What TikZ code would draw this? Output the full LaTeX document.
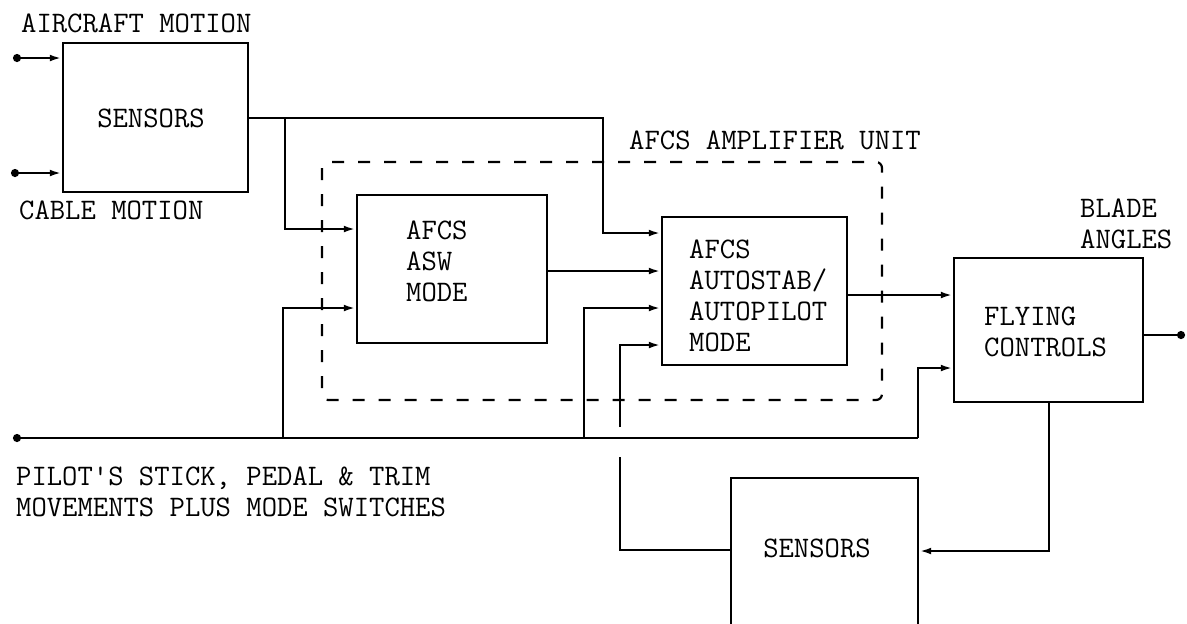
\documentclass[tikz,border=0pt]{standalone}
\usetikzlibrary{arrows.meta}
\begin{document}
\begin{tikzpicture}[x=0.5pt,y=-0.5pt,
  line width=1.2pt,
  blk/.style={draw, line width=1.2pt, inner sep=0pt, rectangle},
  lbl/.style={font=\ttfamily\fontsize{14.9}{15.5}\selectfont, inner sep=0pt, align=left},
  btxt/.style={font=\ttfamily\fontsize{14.9}{15.5}\selectfont, inner sep=0pt, align=left},
  arr/.style={-{Latex[length=6pt,width=3.4pt]}},
  darr/.style={{Circle[length=4pt]}-{Latex[length=6pt,width=3.4pt]}},
  dstart/.style={{Circle[length=4pt]}-},
  dend/.style={-{Circle[length=4pt]}},
  unit/.style={dash pattern=on 6pt off 7pt, line width=1.1pt, rounded corners=3pt}]
\useasboundingbox (0,0) rectangle (1187,623);
\clip (0,0) rectangle (1187,623);

% boxes
\node[blk, minimum width=92.5pt, minimum height=74.5pt] (sen1) at (155.5,117.5) {};
\node[blk, minimum width=95pt, minimum height=74pt] (asw) at (452,269) {};
\node[blk, minimum width=92.5pt, minimum height=74pt] (auto) at (754.5,291) {};
\node[blk, minimum width=94.5pt, minimum height=72pt] (fly) at (1048.5,330) {};
\node[blk, minimum width=93.5pt, minimum height=111pt] (sen2) at (824.5,589) {};

% dashed amplifier unit
\draw[unit] (322,162) rectangle (882,400);
\node[lbl, anchor=west] (unitlbl) at (628,140) {AFCS AMPLIFIER UNIT};

% box texts
\node[btxt] (sen1t) at (151,118) {SENSORS};
\node[btxt, anchor=west] (aswt) at (405,261) {AFCS\\ASW\\MODE};
\node[btxt, anchor=west] (autot) at (688,296) {AFCS\\AUTOSTAB/\\AUTOPILOT\\MODE};
\node[btxt, anchor=west] (flyt) at (983,332) {FLYING\\CONTROLS};
\node[btxt] (sen2t) at (817,548) {SENSORS};

% labels
\node[lbl, anchor=west] (acm) at (20,23) {AIRCRAFT MOTION};
\node[lbl, anchor=west] (cbm) at (18,210) {CABLE MOTION};
\node[lbl, anchor=west] (blade) at (1079,224) {BLADE\\ANGLES};
\node[lbl, anchor=west] (pilot) at (15,492) {PILOT'S STICK, PEDAL \& TRIM\\MOVEMENTS PLUS MODE SWITCHES};

% free ends and junctions
\coordinate (in1) at (13,58);
\coordinate (in2) at (11,173);
\coordinate (pin) at (13,438);
\coordinate (j1) at (285,118);
\coordinate (j2) at (603,118);
\coordinate (p1) at (283,438);
\coordinate (p2) at (584,438);
\coordinate (p3) at (918,438);
\coordinate (gapb) at (620,457);
\coordinate (gapt) at (620,427);
\coordinate (fout) at (1185,335);
\coordinate (fdown) at (1049,551);

% sensor inputs
\draw[darr] (in1) -- (sen1.west |- in1);
\draw[darr] (in2) -- (sen1.west |- in2);

% sensors 1 outputs
\draw[arr] (sen1.east |- j2) -- (j2) -- (603,233) -- (auto.west |- 0,233);
\draw[arr] (j1) -- (285,229) -- (asw.west |- 0,229);

% asw -> autostab
\draw[arr] (asw.east |- 0,271) -- (auto.west |- 0,271);

% pilot line
\draw[dstart] (pin) -- (p3);
\draw[arr] (p3) -- (918,368) -- (fly.west |- 0,368);
\draw[arr] (p1) -- (283,308) -- (asw.west |- 0,308);
\draw[arr] (p2) -- (584,308) -- (auto.west |- 0,308);

% sensors 2 -> autostab, hopping the pilot line
\draw (sen2.west |- 0,550) -- (620,550) -- (gapb);
\draw[arr] (gapt) -- (620,345) -- (auto.west |- 0,345);

% autostab -> flying controls
\draw[arr] (auto.east |- 0,295) -- (fly.west |- 0,295);

% flying controls outputs
\draw[dend] (fly.east |- fout) -- (fout);
\draw[arr] (fly.south -| fdown) -- (fdown) -- (sen2.east |- fdown);
\end{tikzpicture}
\end{document}
